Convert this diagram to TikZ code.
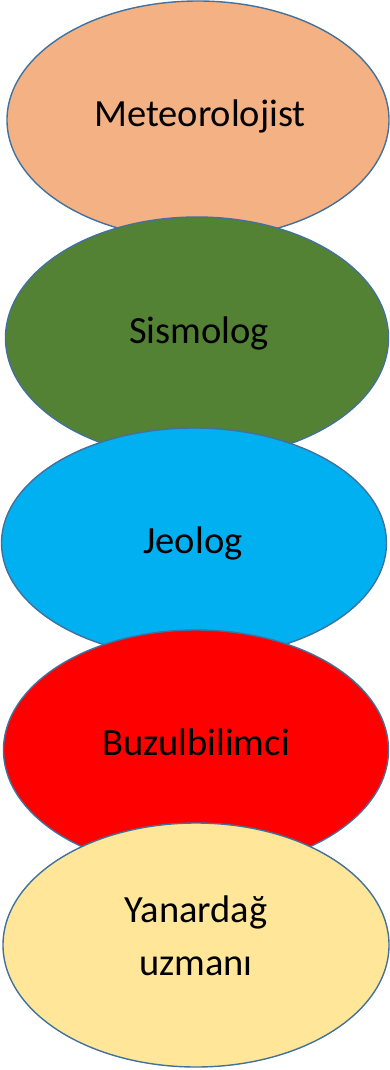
\documentclass[tikz,border=0pt]{standalone}
\usepackage{fontspec}
\setmainfont{Carlito}
\usetikzlibrary{shapes.geometric}

\definecolor{outline}{HTML}{41719C}
\definecolor{peach}{HTML}{F4B183}
\definecolor{moss}{HTML}{548235}
\definecolor{sky}{HTML}{00B0F0}
\definecolor{fire}{HTML}{FF0000}
\definecolor{sand}{HTML}{FFE699}

\begin{document}
\begin{tikzpicture}[x=1pt,y=-1pt,
    oval/.style={ellipse, draw=outline, line width=1.4pt, inner sep=0pt},
    word/.style={anchor=base, font=\fontsize{38.5}{53}\selectfont, align=center}]
\useasboundingbox (0,0) rectangle (390,1070);

    \node[oval, fill=peach, minimum width=382pt, minimum height=238pt] (MET) at (198, 120) {};
    \node[oval, fill=moss,  minimum width=383pt, minimum height=242pt] (SIS) at (197, 338) {};
    \node[oval, fill=sky,   minimum width=385pt, minimum height=230pt] (JEO) at (194, 543) {};
    \node[oval, fill=fire,  minimum width=385pt, minimum height=240pt] (BUZ) at (196, 750) {};
    \node[oval, fill=sand,  minimum width=386pt, minimum height=244pt] (YAN) at (196, 945) {};

    \node[word] (metT) at (200, 127) {Meteorolojist};
    \node[word] (sisT) at (199, 343) {Sismolog};
    \node[word] (jeoT) at (193, 553) {Jeolog};
    \node[word] (buzT) at (196, 755) {Buzulbilimci};
    \node[word] (yanT) at (196, 975) {Yanardağ\\uzmanı};
\end{tikzpicture}
\end{document}
